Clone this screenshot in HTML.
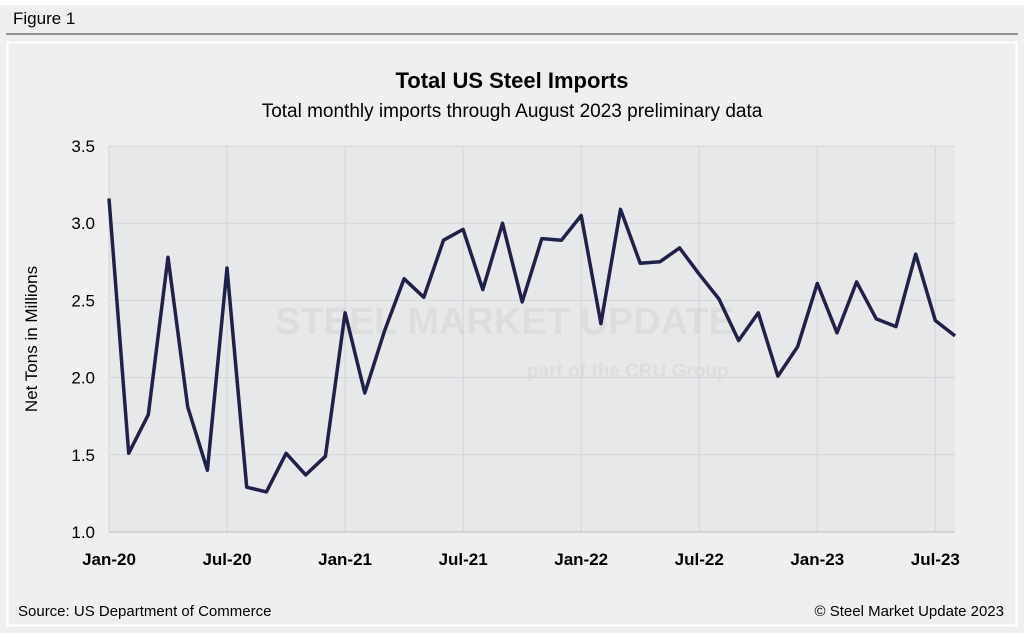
<!DOCTYPE html>
<html><head><meta charset="utf-8"><style>
body{margin:0;background:#fff;font-family:"Liberation Sans",sans-serif}
#wrap{position:absolute;left:0;top:5px;width:1024px;height:628px;background:#efefef}
</style></head><body>
<div id="wrap"></div>
<svg id="c" width="1024" height="633" style="position:absolute;left:0;top:0">
<text x="13" y="24" font-size="17" fill="#000">Figure 1</text>
<line x1="6" y1="34" x2="1018" y2="34" stroke="#333" stroke-width="1"/>
<rect x="7.5" y="42.5" width="1009" height="583" fill="#efefef" stroke="#fff" stroke-width="2"/>
<text x="512" y="88" font-size="22" font-weight="bold" text-anchor="middle">Total US Steel Imports</text>
<text x="512" y="117" font-size="19" text-anchor="middle">Total monthly imports through August 2023 preliminary data</text>
<rect x="109" y="146" width="846" height="386" fill="#e7e8ea"/>
<g id="grid"></g>
<g opacity="0.35">
<text x="275" y="334" font-size="38" font-weight="bold" fill="#c9c9cb">STEEL MARKET UPDATE</text>
<text x="527" y="377" font-size="19" font-weight="bold" fill="#c9c9cb">part of the  CRU  Group</text>
</g>
<g id="axes"></g>
<text transform="translate(37,339) rotate(-90)" font-size="17" text-anchor="middle">Net Tons in Millions</text>
<path id="line" fill="none" stroke="#1e2148" stroke-width="3.5" stroke-linejoin="round"/>
<text x="18" y="616" font-size="15">Source: US Department of Commerce</text>
<text x="1004" y="616" font-size="15" text-anchor="end">© Steel Market Update 2023</text>
</svg>
<script>
const months=["Jan-20","Feb-20","Mar-20","Apr-20","May-20","Jun-20","Jul-20","Aug-20","Sep-20","Oct-20","Nov-20","Dec-20","Jan-21","Feb-21","Mar-21","Apr-21","May-21","Jun-21","Jul-21","Aug-21","Sep-21","Oct-21","Nov-21","Dec-21","Jan-22","Feb-22","Mar-22","Apr-22","May-22","Jun-22","Jul-22","Aug-22","Sep-22","Oct-22","Nov-22","Dec-22","Jan-23","Feb-23","Mar-23","Apr-23","May-23","Jun-23","Jul-23","Aug-23"];
const imports=[3.16,1.51,1.76,2.78,1.81,1.40,2.71,1.29,1.26,1.51,1.37,1.49,2.42,1.90,2.30,2.64,2.52,2.89,2.96,2.57,3.00,2.49,2.90,2.89,3.05,2.35,3.09,2.74,2.75,2.84,2.67,2.51,2.24,2.42,2.01,2.20,2.61,2.29,2.62,2.38,2.33,2.80,2.37,2.27];
const yTicks=[1.0,1.5,2.0,2.5,3.0,3.5];
const xTickLabels=["Jan-20","Jul-20","Jan-21","Jul-21","Jan-22","Jul-22","Jan-23","Jul-23"];
const NS="http://www.w3.org/2000/svg";
const x=i=>109+i*(955-109)/43;
const y=v=>532-(v-1)*(386/2.5);
const grid=document.getElementById('grid'),axes=document.getElementById('axes');
function mk(tag,attrs,parent){const e=document.createElementNS(NS,tag);for(const k in attrs)e.setAttribute(k,attrs[k]);parent.appendChild(e);return e;}
yTicks.forEach(t=>{
 const l=mk('line',{x1:109,x2:955,y1:y(t),y2:y(t),stroke:'#d4d5d8','stroke-width':1},grid);
 
 
 const tx=mk('text',{x:95,y:y(t)+6,'font-size':17,'text-anchor':'end'},axes);
 tx.textContent=t.toFixed(1);
 
 
});
xTickLabels.forEach(lb=>{
 const i=months.indexOf(lb);
 const l=mk('line',{x1:x(i),x2:x(i),y1:146,y2:532,stroke:'#d4d5d8','stroke-width':1},grid);
 
 
 const tx=mk('text',{x:x(i),y:565,'font-size':17,'font-weight':'bold','text-anchor':'middle'},axes);
 tx.textContent=lb;
 
 
});
const ax=mk('line',{x1:109,x2:955,y1:532,y2:532,stroke:'#bbb','stroke-width':1},axes);


document.getElementById('line').setAttribute('d',imports.map((v,i)=>(i?'L':'M')+x(i).toFixed(1)+','+y(v).toFixed(1)).join(''));
</script>
</body></html>
